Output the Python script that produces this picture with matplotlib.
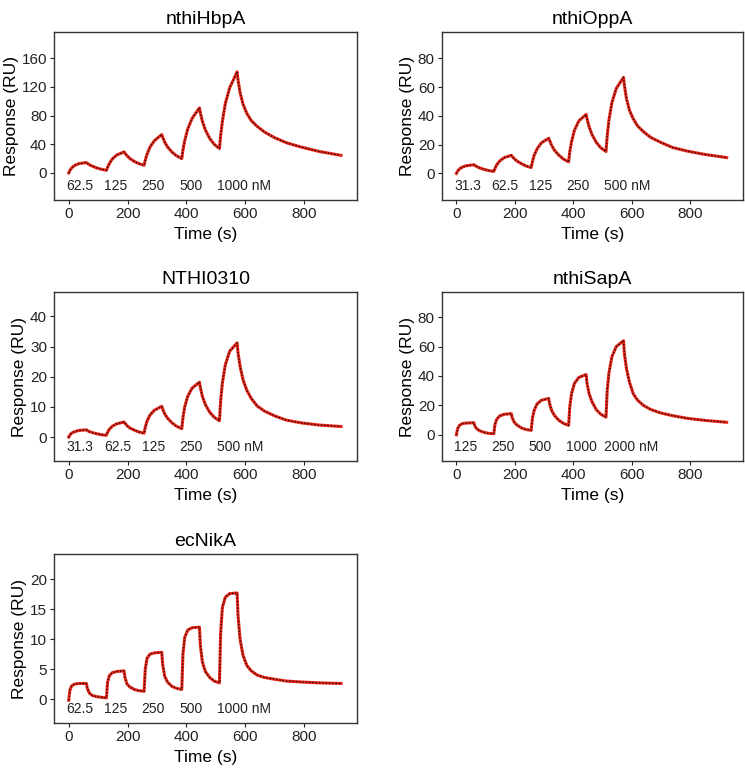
import matplotlib.pyplot as plt

plt.rcParams['font.family'] = ['Liberation Sans', 'DejaVu Sans']

# sample times (s): five injections of 60 s, 128 s apart, then a long dissociation
time_s = [0, 4, 10, 20, 35, 60, 63, 70, 80, 95, 110,
          128, 132, 138, 148, 163, 188, 191, 198, 208, 223, 238,
          256, 260, 266, 276, 291, 316, 319, 326, 336, 351, 366,
          384, 388, 394, 404, 419, 444, 447, 454, 464, 479, 494,
          512, 516, 522, 532, 547, 572, 575, 582, 592, 605, 620,
          640, 665, 700, 740, 790, 850, 925]

inject_start = [0, 128, 256, 384, 512]

hbpa = [0, 3.5, 7, 10.5, 13, 14.5, 13.5, 11.5, 9.5, 7, 5.2,
        3.7, 8, 13, 19.5, 25, 29.3, 27.5, 24, 20, 16, 13,
        10.7, 18, 26, 36, 45, 53.5, 50, 43, 36, 29, 24,
        20, 32, 45, 61, 76, 90.7, 84, 72, 60, 48, 40,
        34, 52, 72, 97, 119, 141, 130, 112, 96, 83, 73,
        65, 57, 49, 42, 36, 30, 24.5]

oppa = [0, 1.5, 3, 4.4, 5.4, 6.0, 5.6, 4.7, 3.8, 2.8, 2.0,
        1.4, 3.5, 6, 8.6, 10.9, 12.6, 11.8, 10.2, 8.5, 6.7, 5.2,
        4.1, 8, 12.5, 17, 21.3, 24.4, 22.8, 19.5, 16, 12.6, 10,
        8.0, 15, 22, 30, 36.5, 41, 38, 32.5, 27, 21.5, 17.8,
        15.2, 26, 37, 49, 59, 66.7, 61, 52, 44, 38, 33,
        29, 25, 21.5, 18, 15.5, 13.2, 11]

nthi0310 = [0, 0.7, 1.3, 1.8, 2.2, 2.4, 2.2, 1.8, 1.5, 1.1, 0.8,
            0.6, 1.6, 2.6, 3.6, 4.4, 5.0, 4.6, 3.8, 3.0, 2.3, 1.7,
            1.3, 3.3, 5.3, 7.3, 8.9, 10.2, 9.3, 7.7, 6.2, 4.7, 3.6,
            2.8, 6.5, 10, 13.5, 16.2, 18.2, 16.5, 13.5, 10.8, 8.2, 6.6,
            5.4, 12, 18, 24, 28.5, 31.2, 28, 23.5, 19, 15.5, 12.8,
            10.3, 8.6, 7.0, 5.6, 4.7, 4.0, 3.5]

sapa = [0, 4, 6.3, 7.6, 8.0, 8.2, 6.0, 4.0, 2.7, 1.6, 1.0,
        0.7, 7, 10.5, 12.8, 13.9, 14.4, 11.5, 8.5, 6.5, 4.6, 3.6,
        3.0, 11, 16.5, 21, 23.5, 24.7, 21, 16.5, 13, 9.8, 7.8,
        6.4, 19, 28, 35, 39, 41, 35, 28, 22.5, 17, 14,
        12, 30, 42, 53, 60, 64, 55, 45, 36, 28, 23.5,
        20, 17.2, 14.8, 13, 11.2, 9.8, 8.5]

nika = [-0.2, 1.5, 2.2, 2.5, 2.6, 2.6, 1.8, 1.0, 0.6, 0.4, 0.3,
        0.2, 2.8, 3.9, 4.4, 4.6, 4.7, 3.6, 2.5, 2.0, 1.6, 1.4,
        1.3, 5.0, 6.8, 7.5, 7.7, 7.8, 5.8, 3.8, 2.8, 2.1, 1.8,
        1.6, 7.5, 10.3, 11.5, 11.9, 12.0, 9.0, 6.2, 4.6, 3.6, 3.0,
        2.7, 11, 15.3, 17, 17.6, 17.7, 14, 10, 7.3, 5.6, 4.7,
        4.0, 3.6, 3.3, 3.0, 2.85, 2.7, 2.6]

titles = ['nthiHbpA', 'nthiOppA', 'NTHI0310', 'nthiSapA', 'ecNikA']
responses = [hbpa, oppa, nthi0310, sapa, nika]
conc_labels = [['62.5', '125', '250', '500', '1000 nM'],
               ['31.3', '62.5', '125', '250', '500 nM'],
               ['31.3', '62.5', '125', '250', '500 nM'],
               ['125', '250', '500', '1000', '2000 nM'],
               ['62.5', '125', '250', '500', '1000 nM']]
y_limits = [(-38, 196), (-18.6, 98), (-8, 48), (-18, 97), (-4, 24.2)]
y_ticks = [range(0, 161, 40), range(0, 81, 20), range(0, 41, 10),
           range(0, 81, 20), range(0, 21, 5)]

# axes boxes in figure fractions [left, bottom, width, height]
boxes = [[0.0725, 0.740, 0.407, 0.218],
         [0.593, 0.740, 0.404, 0.218],
         [0.0725, 0.401, 0.407, 0.2195],
         [0.593, 0.401, 0.404, 0.2195],
         [0.0725, 0.061, 0.407, 0.2195]]

fig = plt.figure(figsize=(7.45, 7.70), dpi=100)

for i in range(5):
    ax = fig.add_axes(boxes[i])
    ax.plot(time_s, responses[i], color='#e8281b', linewidth=2.2)
    ax.plot(time_s, responses[i], color='black', linewidth=0.9, linestyle=':')

    # concentration of each injection, written under its rise
    for start, lab in zip(inject_start, conc_labels[i]):
        ax.text(start - 8, 0.083, lab, transform=ax.get_xaxis_transform(),
                ha='left', va='center', fontsize=10, color='#222222')

    ax.set_xlim(-50, 980)
    ax.set_ylim(*y_limits[i])
    ax.set_xticks([0, 200, 400, 600, 800])
    ax.set_yticks(list(y_ticks[i]))
    ax.set_title(titles[i], fontsize=14, pad=6)
    ax.set_xlabel('Time (s)', fontsize=12.5, labelpad=4)
    ax.set_ylabel('Response (RU)', fontsize=12.5, labelpad=2)
    ax.tick_params(labelsize=11, length=3, width=0.8, pad=2, colors='#222222')
    for sp in ax.spines.values():
        sp.set_linewidth(1.0)
        sp.set_color('#333333')

fig.savefig('out.png', dpi=100)
